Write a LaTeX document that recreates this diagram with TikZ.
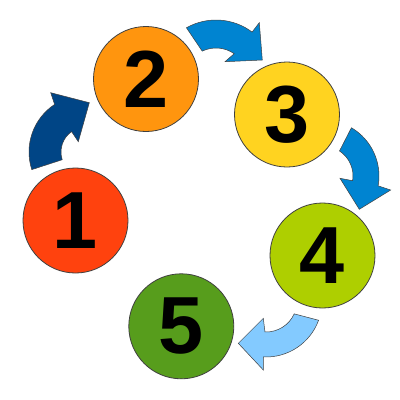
\documentclass[tikz,border=0pt]{standalone}
\usepackage{fontspec}
\setmainfont{Liberation Sans}
\usetikzlibrary{calc}
\definecolor{cone}{HTML}{FF420E}
\definecolor{ctwo}{HTML}{FF950E}
\definecolor{cthree}{HTML}{FFD320}
\definecolor{cfour}{HTML}{AECF00}
\definecolor{cfive}{HTML}{579D1C}
\definecolor{adark}{HTML}{004586}
\definecolor{amid}{HTML}{0084D1}
\definecolor{alight}{HTML}{83CAFF}
\begin{document}
\begin{tikzpicture}[x=1pt,y=-1pt,
  num/.style={circle, draw=black!75, line width=0.8pt, minimum size=105pt, inner sep=0pt,
    font=\fontsize{81}{81}\selectfont\bfseries},
  arr/.style={draw=black!75, line width=0.5pt, line join=miter}]
\path[fill=white] (0,0) rectangle (400,400);
\useasboundingbox (0,0) rectangle (400,400);
% arrows
\path[arr, fill=adark] ($(86,152)+(162:57)$) arc[start angle=162, end angle=236.6, radius=57]
  -- (50.7,92.7) -- (89.3,102.7) -- (78.3,141.7)
  -- ($(86,152)+(234.8:25)$) arc[start angle=234.8, end angle=162, radius=25] -- cycle;
\path[arr, fill=amid] ($(216,80)+(240.5:60)$) arc[start angle=240.5, end angle=307, radius=60]
  -- (259.3,22.7) -- (262.3,60) -- (225,61.7)
  -- ($(216,80)+(304.7:32)$) arc[start angle=304.7, end angle=244.5, radius=32] -- cycle;
\path[arr, fill=amid] ($(323,176)+(300.5:56)$) arc[start angle=300.5, end angle=370.1, radius=56]
  -- (390.7,190) -- (359.3,209.3) -- (340,178.3)
  -- ($(323,176)+(369:30)$) arc[start angle=369, end angle=303.4, radius=30] -- cycle;
\path[arr, fill=alight] ($(266,301)+(20.1:56)$) arc[start angle=20.1, end angle=92.7, radius=56]
  -- (263.3,370) -- (238.3,343.3) -- (263.3,318.3)
  -- ($(266,301)+(91.9:31)$) arc[start angle=91.9, end angle=24.5, radius=31] -- cycle;
% circles
\node[num, fill=cone] (n1) at (75.5,220.5) {1};
\node[num, fill=ctwo] (n2) at (146,79) {2};
\node[num, fill=cthree] (n3) at (287,114.5) {3};
\node[num, fill=cfour] (n4) at (322.5,255.5) {4};
\node[num, fill=cfive] (n5) at (181.3,326.3) {5};
\end{tikzpicture}
\end{document}
